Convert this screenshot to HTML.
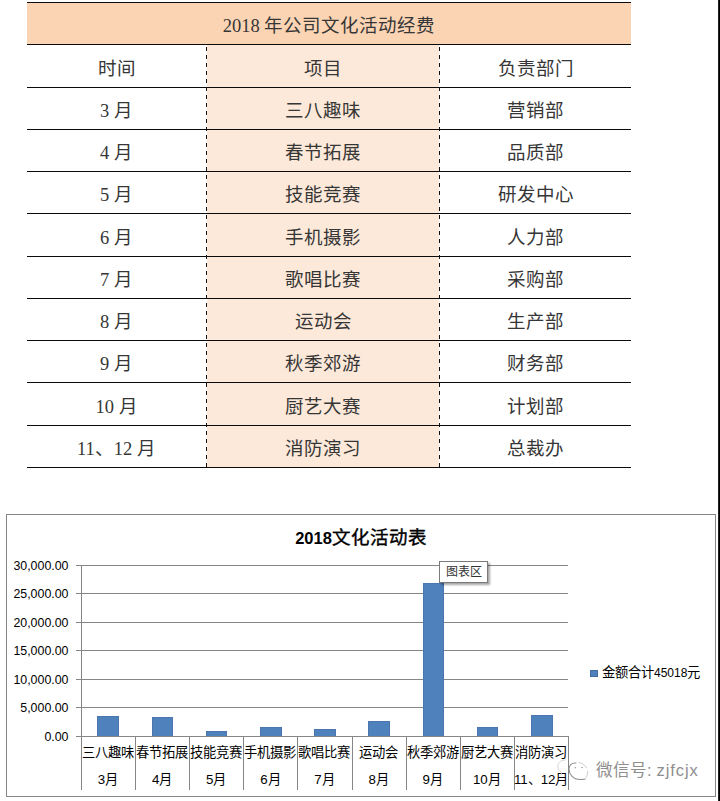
<!DOCTYPE html>
<html lang="zh-CN"><head><meta charset="utf-8"><title>2018年公司文化活动经费</title>
<style>
*{margin:0;padding:0;box-sizing:border-box}
html,body{width:720px;height:801px;background:#fff;overflow:hidden}
body{position:relative;font-family:"Liberation Serif",serif;color:#111}
.a{position:absolute}
.hl{position:absolute;left:27px;width:604px;height:1px;background:#0a0a0a}
.dl{position:absolute;width:1px;top:45px;height:422px;background:repeating-linear-gradient(to bottom,transparent 0 2px,#111 2px 6px,transparent 6px 8px)}
.t{position:absolute;text-align:center;white-space:nowrap;font-size:18.5px;line-height:20px;color:#363636}
.s{font-family:"Liberation Sans",sans-serif}
</style></head><body>

<div class="a" style="left:27px;top:3px;width:604px;height:41px;background:#fbd4b4"></div>
<div class="a" style="left:207px;top:45px;width:232px;height:422px;background:#fde9d9"></div>
<div class="hl" style="top:2px"></div>
<div class="hl" style="top:44px"></div>
<div class="hl" style="top:87px"></div>
<div class="hl" style="top:129px"></div>
<div class="hl" style="top:171px"></div>
<div class="hl" style="top:213px"></div>
<div class="hl" style="top:256px"></div>
<div class="hl" style="top:298px"></div>
<div class="hl" style="top:340px"></div>
<div class="hl" style="top:382px"></div>
<div class="hl" style="top:425px"></div>
<div class="hl" style="top:467px"></div>
<div class="dl" style="left:206px"></div>
<div class="dl" style="left:439px"></div>
<div class="t" style="left:27px;width:604px;top:16.0px">2018 年公司文化活动经费</div>
<div class="t" style="left:27px;width:179px;top:58.5px">时间</div>
<div class="t" style="left:207px;width:232px;top:58.5px">项目</div>
<div class="t" style="left:440px;width:191px;top:58.5px">负责部门</div>
<div class="t" style="left:27px;width:179px;top:101.0px">3 月</div>
<div class="t" style="left:207px;width:232px;top:101.0px">三八趣味</div>
<div class="t" style="left:440px;width:191px;top:101.0px">营销部</div>
<div class="t" style="left:27px;width:179px;top:143.0px">4 月</div>
<div class="t" style="left:207px;width:232px;top:143.0px">春节拓展</div>
<div class="t" style="left:440px;width:191px;top:143.0px">品质部</div>
<div class="t" style="left:27px;width:179px;top:185.0px">5 月</div>
<div class="t" style="left:207px;width:232px;top:185.0px">技能竞赛</div>
<div class="t" style="left:440px;width:191px;top:185.0px">研发中心</div>
<div class="t" style="left:27px;width:179px;top:227.5px">6 月</div>
<div class="t" style="left:207px;width:232px;top:227.5px">手机摄影</div>
<div class="t" style="left:440px;width:191px;top:227.5px">人力部</div>
<div class="t" style="left:27px;width:179px;top:270.0px">7 月</div>
<div class="t" style="left:207px;width:232px;top:270.0px">歌唱比赛</div>
<div class="t" style="left:440px;width:191px;top:270.0px">采购部</div>
<div class="t" style="left:27px;width:179px;top:312.0px">8 月</div>
<div class="t" style="left:207px;width:232px;top:312.0px">运动会</div>
<div class="t" style="left:440px;width:191px;top:312.0px">生产部</div>
<div class="t" style="left:27px;width:179px;top:354.0px">9 月</div>
<div class="t" style="left:207px;width:232px;top:354.0px">秋季郊游</div>
<div class="t" style="left:440px;width:191px;top:354.0px">财务部</div>
<div class="t" style="left:27px;width:179px;top:396.5px">10 月</div>
<div class="t" style="left:207px;width:232px;top:396.5px">厨艺大赛</div>
<div class="t" style="left:440px;width:191px;top:396.5px">计划部</div>
<div class="t" style="left:27px;width:179px;top:439.0px">11、12 月</div>
<div class="t" style="left:207px;width:232px;top:439.0px">消防演习</div>
<div class="t" style="left:440px;width:191px;top:439.0px">总裁办</div>
<div class="a" style="left:718px;top:0;width:2px;height:801px;background:linear-gradient(to right,#222 0 1px,#000 1px 2px)"></div>
<div class="a" style="left:6px;top:514px;width:710px;height:283px;border:1px solid #868686"></div>
<div class="a s" style="left:6px;top:528px;width:710px;text-align:center;white-space:nowrap;line-height:20px;color:#000"><b style="font-size:16.5px">2018</b><span style="font-size:18.5px;-webkit-text-stroke:0.4px #000">文化活动表</span></div>
<div class="a" style="left:76px;top:565px;width:492px;height:1px;background:#868686"></div>
<div class="a s" style="left:0;width:68.5px;top:558.5px;text-align:right;font-size:12.4px;line-height:14px;color:#000">30,000.00</div>
<div class="a" style="left:76px;top:593px;width:492px;height:1px;background:#868686"></div>
<div class="a s" style="left:0;width:68.5px;top:586.5px;text-align:right;font-size:12.4px;line-height:14px;color:#000">25,000.00</div>
<div class="a" style="left:76px;top:622px;width:492px;height:1px;background:#868686"></div>
<div class="a s" style="left:0;width:68.5px;top:615.5px;text-align:right;font-size:12.4px;line-height:14px;color:#000">20,000.00</div>
<div class="a" style="left:76px;top:650px;width:492px;height:1px;background:#868686"></div>
<div class="a s" style="left:0;width:68.5px;top:643.5px;text-align:right;font-size:12.4px;line-height:14px;color:#000">15,000.00</div>
<div class="a" style="left:76px;top:679px;width:492px;height:1px;background:#868686"></div>
<div class="a s" style="left:0;width:68.5px;top:672.5px;text-align:right;font-size:12.4px;line-height:14px;color:#000">10,000.00</div>
<div class="a" style="left:76px;top:707px;width:492px;height:1px;background:#868686"></div>
<div class="a s" style="left:0;width:68.5px;top:700.5px;text-align:right;font-size:12.4px;line-height:14px;color:#000">5,000.00</div>
<div class="a" style="left:76px;top:736px;width:492px;height:1px;background:#868686"></div>
<div class="a s" style="left:0;width:68.5px;top:729.5px;text-align:right;font-size:12.4px;line-height:14px;color:#000">0.00</div>
<div class="a" style="left:81px;top:565px;width:1px;height:225px;background:#868686"></div>
<div class="a" style="left:97px;top:716px;width:22px;height:20px;background:#4f81bd;border:1px solid #4a76ad;border-bottom:none"></div>
<div class="a" style="left:152px;top:717px;width:21px;height:19px;background:#4f81bd;border:1px solid #4a76ad;border-bottom:none"></div>
<div class="a" style="left:206px;top:731px;width:21px;height:5px;background:#4f81bd;border:1px solid #4a76ad;border-bottom:none"></div>
<div class="a" style="left:260px;top:727px;width:22px;height:9px;background:#4f81bd;border:1px solid #4a76ad;border-bottom:none"></div>
<div class="a" style="left:314px;top:729px;width:22px;height:7px;background:#4f81bd;border:1px solid #4a76ad;border-bottom:none"></div>
<div class="a" style="left:368px;top:721px;width:22px;height:15px;background:#4f81bd;border:1px solid #4a76ad;border-bottom:none"></div>
<div class="a" style="left:423px;top:583px;width:21px;height:153px;background:#4f81bd;border:1px solid #4a76ad;border-bottom:none"></div>
<div class="a" style="left:477px;top:727px;width:21px;height:9px;background:#4f81bd;border:1px solid #4a76ad;border-bottom:none"></div>
<div class="a" style="left:531px;top:715px;width:22px;height:21px;background:#4f81bd;border:1px solid #4a76ad;border-bottom:none"></div>
<div class="a" style="left:81px;top:736px;width:1px;height:54px;background:#868686"></div>
<div class="a" style="left:135px;top:736px;width:1px;height:54px;background:#868686"></div>
<div class="a" style="left:189px;top:736px;width:1px;height:54px;background:#868686"></div>
<div class="a" style="left:243px;top:736px;width:1px;height:54px;background:#868686"></div>
<div class="a" style="left:297px;top:736px;width:1px;height:54px;background:#868686"></div>
<div class="a" style="left:352px;top:736px;width:1px;height:54px;background:#868686"></div>
<div class="a" style="left:406px;top:736px;width:1px;height:54px;background:#868686"></div>
<div class="a" style="left:460px;top:736px;width:1px;height:54px;background:#868686"></div>
<div class="a" style="left:514px;top:736px;width:1px;height:54px;background:#868686"></div>
<div class="a" style="left:568px;top:736px;width:1px;height:54px;background:#868686"></div>
<div class="a s" style="left:81.0px;width:54.1px;top:744.5px;text-align:center;font-size:13.3px;line-height:16px;white-space:nowrap;color:#000">三八趣味</div>
<div class="a s" style="left:81.0px;width:54.1px;top:772px;text-align:center;font-size:13.3px;line-height:16px;white-space:nowrap;color:#000">3月</div>
<div class="a s" style="left:135.1px;width:54.1px;top:744.5px;text-align:center;font-size:13.3px;line-height:16px;white-space:nowrap;color:#000">春节拓展</div>
<div class="a s" style="left:135.1px;width:54.1px;top:772px;text-align:center;font-size:13.3px;line-height:16px;white-space:nowrap;color:#000">4月</div>
<div class="a s" style="left:189.2px;width:54.1px;top:744.5px;text-align:center;font-size:13.3px;line-height:16px;white-space:nowrap;color:#000">技能竞赛</div>
<div class="a s" style="left:189.2px;width:54.1px;top:772px;text-align:center;font-size:13.3px;line-height:16px;white-space:nowrap;color:#000">5月</div>
<div class="a s" style="left:243.3px;width:54.1px;top:744.5px;text-align:center;font-size:13.3px;line-height:16px;white-space:nowrap;color:#000">手机摄影</div>
<div class="a s" style="left:243.3px;width:54.1px;top:772px;text-align:center;font-size:13.3px;line-height:16px;white-space:nowrap;color:#000">6月</div>
<div class="a s" style="left:297.4px;width:54.1px;top:744.5px;text-align:center;font-size:13.3px;line-height:16px;white-space:nowrap;color:#000">歌唱比赛</div>
<div class="a s" style="left:297.4px;width:54.1px;top:772px;text-align:center;font-size:13.3px;line-height:16px;white-space:nowrap;color:#000">7月</div>
<div class="a s" style="left:351.6px;width:54.1px;top:744.5px;text-align:center;font-size:13.3px;line-height:16px;white-space:nowrap;color:#000">运动会</div>
<div class="a s" style="left:351.6px;width:54.1px;top:772px;text-align:center;font-size:13.3px;line-height:16px;white-space:nowrap;color:#000">8月</div>
<div class="a s" style="left:405.7px;width:54.1px;top:744.5px;text-align:center;font-size:13.3px;line-height:16px;white-space:nowrap;color:#000">秋季郊游</div>
<div class="a s" style="left:405.7px;width:54.1px;top:772px;text-align:center;font-size:13.3px;line-height:16px;white-space:nowrap;color:#000">9月</div>
<div class="a s" style="left:459.8px;width:54.1px;top:744.5px;text-align:center;font-size:13.3px;line-height:16px;white-space:nowrap;color:#000">厨艺大赛</div>
<div class="a s" style="left:459.8px;width:54.1px;top:772px;text-align:center;font-size:13.3px;line-height:16px;white-space:nowrap;color:#000">10月</div>
<div class="a s" style="left:513.9px;width:54.1px;top:744.5px;text-align:center;font-size:13.3px;line-height:16px;white-space:nowrap;color:#000">消防演习</div>
<div class="a s" style="left:513.9px;width:54.1px;top:772px;text-align:center;font-size:13.3px;line-height:16px;white-space:nowrap;color:#000">11、12月</div>
<div class="a" style="left:590px;top:670px;width:8px;height:7px;background:#4f81bd;border:1px solid #44709f"></div>
<div class="a s" style="left:602px;top:665px;font-size:13.3px;line-height:16px;white-space:nowrap;color:#000">金额合计<span style="font-size:12px">45018</span>元</div>
<div class="a" style="left:439px;top:561px;width:49px;height:22px;background:#fff;border:1px solid #7a7a7a;box-shadow:2px 2px 2px rgba(0,0,0,.35)"></div>
<div class="a s" style="left:439px;top:564px;width:49px;text-align:center;font-size:12px;line-height:16px;color:#333">图表区</div>
<div class="a s" style="left:596px;top:759.5px;font-size:16.5px;line-height:20px;color:#8e8e8e;text-shadow:0.5px 0.5px 0 rgba(255,255,255,.6);white-space:nowrap">微信号:<span style="letter-spacing:0.9px;margin-left:5px">zjfcjx</span></div>
<svg class="a" style="left:552px;top:752px" width="40" height="34" viewBox="0 0 40 34" fill="none" stroke-linecap="round">
<path d="M13 8 C 8 8, 5 12, 6 16 C 6.5 18, 8 19.5, 9.5 20.5 L 9 23" stroke="#d4d4d4" stroke-width="1"/>
<path d="M24 11 C 20 10.5, 17 13, 17 17 C 17 22, 21 27.5, 28 27.5 L 33 27.3" stroke="#8c8c8c" stroke-width="1.1"/>
<path d="M33 27 C 35 25, 36 22, 35.5 19 M 27 10.5 C 30 11, 33 13, 35 16" stroke="#cfcfcf" stroke-width="1"/>
<circle cx="23.3" cy="15.7" r="0.8" fill="#9a9a9a" stroke="none"/>
<circle cx="30" cy="15.5" r="0.8" fill="#9a9a9a" stroke="none"/>
</svg>
</body></html>
